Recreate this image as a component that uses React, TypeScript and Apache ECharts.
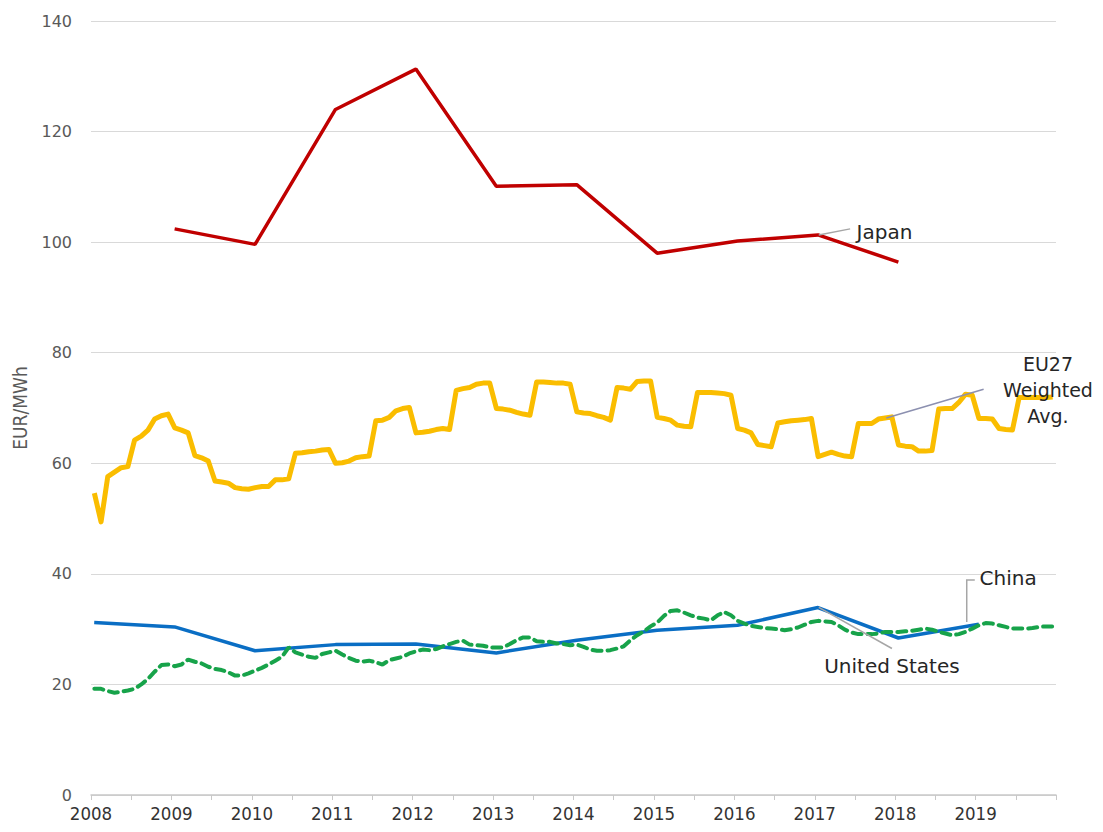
import React, { useEffect, useRef } from "react";
import * as echarts from "echarts";

// Axis
const yearTicks = [2008, 2009, 2010, 2011, 2012, 2013, 2014, 2015, 2016, 2017, 2018, 2019];

// Annual series
const japanYears = [2009, 2010, 2011, 2012, 2013, 2014, 2015, 2016, 2017, 2018];
const japanValues = [102.4, 99.6, 124.0, 131.3, 110.1, 110.4, 98.0, 100.2, 101.3, 96.4];

const chinaYears = [2008, 2009, 2010, 2011, 2012, 2013, 2014, 2015, 2016, 2017, 2018, 2019];
const chinaValues = [31.2, 30.4, 26.1, 27.2, 27.3, 25.7, 28.0, 29.8, 30.7, 33.9, 28.4, 30.9];

// Monthly series, Jan 2008 .. Dec 2019
const eu27Monthly = [
  54.6, 49.4, 57.6, 58.4, 59.2, 59.4, 64.2, 64.9, 66.0, 68.0, 68.6, 68.9,
  66.4, 66.0, 65.5, 61.4, 61.0, 60.4, 56.8, 56.6, 56.4, 55.6, 55.4, 55.3,
  55.6, 55.8, 55.8, 57.0, 57.0, 57.2, 61.8, 61.9, 62.1, 62.2, 62.4, 62.5,
  60.0, 60.1, 60.4, 61.0, 61.2, 61.3, 67.7, 67.8, 68.3, 69.5, 69.9, 70.1,
  65.5, 65.6, 65.8, 66.1, 66.3, 66.1, 73.2, 73.5, 73.7, 74.3, 74.5, 74.5,
  69.9, 69.8, 69.6, 69.2, 68.9, 68.7, 74.7, 74.7, 74.6, 74.5, 74.5, 74.3,
  69.3, 69.1, 69.0, 68.6, 68.3, 67.8, 73.7, 73.6, 73.4, 74.8, 74.9, 74.9,
  68.3, 68.1, 67.8, 66.9, 66.7, 66.6, 72.8, 72.8, 72.8, 72.7, 72.6, 72.3,
  66.3, 66.0, 65.5, 63.4, 63.2, 63.0, 67.3, 67.5, 67.7, 67.8, 67.9, 68.1,
  61.2, 61.6, 62.0, 61.6, 61.3, 61.2, 67.2, 67.2, 67.2, 68.0, 68.2, 68.4,
  63.3, 63.1, 63.0, 62.2, 62.2, 62.3, 69.8, 69.9, 69.9, 71.0, 72.5, 72.3,
  68.1, 68.1, 68.0, 66.3, 66.1, 66.0, 71.9, 71.9, 71.9, 71.9, 71.9, 72.0,
];

const usMonthly = [
  19.2, 19.2, 18.8, 18.5, 18.7, 18.9, 19.2, 20.0, 21.0, 22.3, 23.5, 23.6,
  23.3, 23.6, 24.5, 24.1, 23.8, 23.2, 22.8, 22.6, 22.2, 21.6, 21.6, 22.0,
  22.5, 23.0, 23.6, 24.3, 25.0, 26.7, 25.8, 25.4, 25.0, 24.8, 25.5, 25.8,
  26.1, 25.4, 24.8, 24.3, 24.1, 24.3, 24.0, 23.6, 24.4, 24.7, 25.0, 25.6,
  26.0, 26.3, 26.2, 26.4, 26.9, 27.3, 27.7, 27.9, 27.2, 27.1, 27.0, 26.7,
  26.7, 26.7, 27.3, 28.0, 28.5, 28.5, 27.8, 27.7, 27.7, 27.4, 27.3, 27.1,
  27.2, 26.8, 26.3, 26.1, 26.1, 26.2, 26.5, 26.9, 28.0, 28.9, 29.6, 30.5,
  31.2, 32.4, 33.3, 33.4, 33.0, 32.5, 32.1, 31.9, 31.6, 32.5, 33.1, 32.5,
  31.5, 31.0, 30.6, 30.4, 30.2, 30.1, 30.0, 29.8, 30.0, 30.3, 30.8, 31.3,
  31.5, 31.4, 31.3, 30.7, 29.9, 29.4, 29.1, 29.1, 29.1, 29.2, 29.5, 29.5,
  29.5, 29.6, 29.7, 29.9, 30.1, 29.9, 29.5, 29.2, 28.9, 29.1, 29.5, 30.1,
  30.7, 31.1, 31.0, 30.7, 30.4, 30.1, 30.1, 30.1, 30.2, 30.4, 30.5, 30.5,
];

const START_YEAR = 2008;

const monthly = (vals: number[]) =>
  vals.map((v, i) => [START_YEAR + (i + 0.5) / 12, v]);
const annual = (years: number[], vals: number[]) =>
  years.map((y, i) => [y + 0.04, vals[i]]);

// Annotations in data coordinates
const japanLeader = [[2017.05, 101.3], [2017.44, 102.4]];
const japanLabel = [2017.52, 101.9];
const euLeader = [[2017.89, 68.2], [2019.1, 73.4]];
const euLabel = [2019.9, 73.3];
const chinaLeader = [[2018.89, 31.3], [2018.89, 38.9], [2018.99, 38.9]];
const chinaLabel = [2019.05, 39.2];
const usLeader = [[2017.05, 33.95], [2017.96, 26.5]];
const usLabel = [2017.96, 23.3];

const TEXT_FONT = "'DejaVu Sans', Verdana, sans-serif";
const NARROW_FONT = "'DejaVu Sans Condensed', 'Liberation Sans Narrow', sans-serif";

export default function App() {
  const ref = useRef<HTMLDivElement>(null);

  useEffect(() => {
    if (!ref.current) return;
    const chart = echarts.init(ref.current, null, { renderer: "svg" });

    const option: any = {
      animation: false,
      backgroundColor: "#ffffff",
      grid: { left: 91, right: 47, top: 21, bottom: 37, containLabel: false },
      xAxis: {
        type: "value",
        min: 2008,
        max: 2020,
        interval: 0.5,
        axisLine: { show: true, lineStyle: { color: "#c8c8c8", width: 1.5 } },
        axisTick: { show: true, length: 5, lineStyle: { color: "#c8c8c8" } },
        splitLine: { show: false },
        axisLabel: {
          color: "#333333",
          fontFamily: NARROW_FONT,
          fontSize: 18.5,
          margin: 9,
          formatter: (v: number) =>
            yearTicks.indexOf(v) >= 0 ? String(v) : "",
        },
      },
      yAxis: {
        type: "value",
        min: 0,
        max: 140,
        interval: 20,
        name: "EUR/MWh",
        nameLocation: "middle",
        nameRotate: 90,
        nameGap: 62,
        nameTextStyle: {
          color: "#595959",
          fontFamily: "'Liberation Sans Narrow', 'DejaVu Sans Condensed', sans-serif",
          fontSize: 19,
        },
        axisLine: { show: false },
        axisTick: { show: false },
        splitLine: { lineStyle: { color: "#d9d9d9", width: 1 } },
        axisLabel: {
          color: "#595959",
          fontFamily: TEXT_FONT,
          fontSize: 16,
          margin: 19,
        },
      },
      series: [
        {
          name: "EU27 Weighted Avg.",
          type: "line",
          data: monthly(eu27Monthly),
          showSymbol: false,
          symbol: "none",
          lineStyle: { color: "#FABD00", width: 5, join: "round" },
          z: 2,
        },
        {
          name: "Japan",
          type: "line",
          data: annual(japanYears, japanValues),
          showSymbol: false,
          symbol: "none",
          lineStyle: { color: "#C00000", width: 3.5 },
          z: 3,
        },
        {
          name: "China",
          type: "line",
          data: annual(chinaYears, chinaValues),
          showSymbol: false,
          symbol: "none",
          lineStyle: { color: "#0A6EC4", width: 3.5 },
          z: 3,
        },
        {
          name: "United States",
          type: "line",
          data: monthly(usMonthly),
          showSymbol: false,
          symbol: "none",
          lineStyle: { color: "#17A34A", width: 4, type: [9, 6], cap: "round" },
          z: 4,
        },
      ],
    };
    chart.setOption(option);

    const px = (p: number[]) => chart.convertToPixel({ gridIndex: 0 }, p) as number[];
    const leaderStyle = { stroke: "#a6a6a6", lineWidth: 1.5, fill: null };
    const textStyle = (extra: any) => ({
      fill: "#262626",
      fontFamily: TEXT_FONT,
      fontSize: 20,
      ...extra,
    });

    chart.setOption({
      graphic: [
        { type: "polyline", shape: { points: japanLeader.map(px) }, style: leaderStyle, z: 10 },
        {
          type: "text",
          x: px(japanLabel)[0],
          y: px(japanLabel)[1],
          style: textStyle({ text: "Japan", align: "left", verticalAlign: "middle" }),
          z: 10,
        },
        {
          type: "polyline",
          shape: { points: euLeader.map(px) },
          style: { stroke: "#8c90b0", lineWidth: 1.5, fill: null },
          z: 10,
        },
        {
          type: "text",
          x: px(euLabel)[0],
          y: px(euLabel)[1],
          style: textStyle({
            text: "EU27\nWeighted\nAvg.",
            align: "center",
            verticalAlign: "middle",
            lineHeight: 26,
            fontSize: 19,
          }),
          z: 10,
        },
        { type: "polyline", shape: { points: chinaLeader.map(px) }, style: leaderStyle, z: 10 },
        {
          type: "text",
          x: px(chinaLabel)[0],
          y: px(chinaLabel)[1],
          style: textStyle({ text: "China", align: "left", verticalAlign: "middle" }),
          z: 10,
        },
        { type: "polyline", shape: { points: usLeader.map(px) }, style: leaderStyle, z: 10 },
        {
          type: "text",
          x: px(usLabel)[0],
          y: px(usLabel)[1],
          style: textStyle({ text: "United States", align: "center", verticalAlign: "middle" }),
          z: 10,
        },
      ],
    });

    return () => chart.dispose();
  }, []);

  return (
    <div
      ref={ref}
      style={{ position: "fixed", left: 0, top: 0, width: 1103, height: 832, background: "#fff" }}
    />
  );
}
